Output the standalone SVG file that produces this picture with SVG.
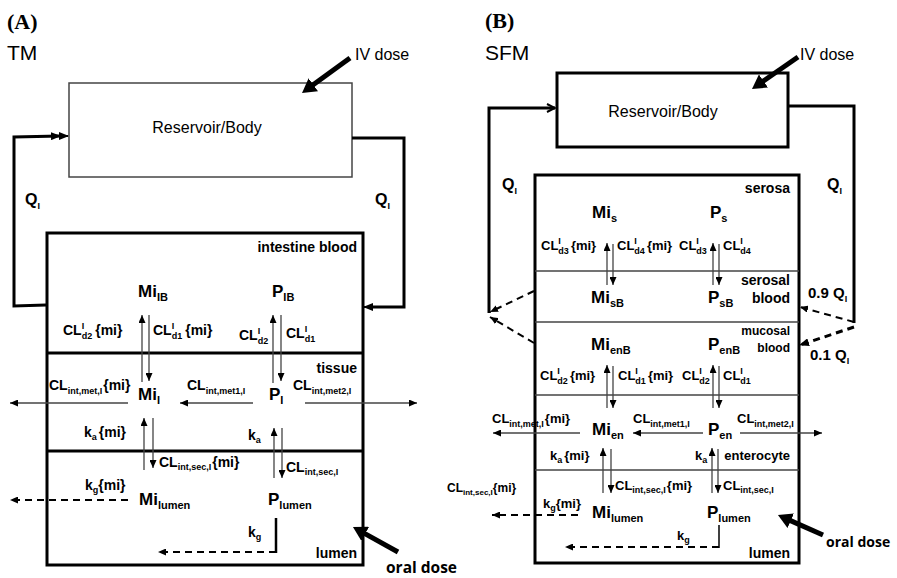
<svg xmlns="http://www.w3.org/2000/svg" width="897" height="578" viewBox="0 0 897 578">
<style>
text{font-family:"Liberation Sans",Arial,sans-serif;fill:#000}
.b{font-weight:bold}
.lbl{font-weight:bold;font-size:14px}
.lblB{font-weight:bold;font-size:13px}
.node{font-weight:bold;font-size:17px}
.s{font-size:9px}
.sn{font-size:11px}
.od{font-family:"Open Sans","Noto Sans",sans-serif;font-weight:bold}
.thin{stroke:#444;stroke-width:1.3;fill:none}
.dash{stroke:#000;stroke-width:2;stroke-dasharray:7 5;fill:none}
.loop{stroke:#000;stroke-width:3;fill:none}
.dose{stroke:#000;stroke-width:5;fill:none}
.box{fill:none;stroke:#000;stroke-width:3}
.div{stroke:#444;stroke-width:1.3}
</style>
<defs>
<marker id="ah" markerUnits="userSpaceOnUse" markerWidth="8" markerHeight="7" refX="8" refY="3.5" orient="auto"><path d="M0,0 L8,3.5 L0,7 z" fill="#000"/></marker>
<marker id="ahL" markerUnits="userSpaceOnUse" markerWidth="10" markerHeight="8" refX="9" refY="4" orient="auto"><path d="M0,0 L10,4 L0,8 z" fill="#000"/></marker>
<marker id="ahD" markerUnits="userSpaceOnUse" markerWidth="16" markerHeight="16" refX="4" refY="8" orient="auto"><path d="M0,0 L14,8 L0,16 z" fill="#000"/></marker>
<marker id="ahO" markerUnits="userSpaceOnUse" markerWidth="10" markerHeight="10" refX="9" refY="5" orient="auto"><path d="M1,1 L9,5 L1,9" fill="none" stroke="#000" stroke-width="2"/></marker>
</defs>

<!-- Panel A titles -->
<text x="7" y="29" style="font-family:'Liberation Serif','Times New Roman',serif;font-weight:bold;font-size:22px">(A)</text>
<text x="7" y="60" style="font-size:21px">TM</text>
<!-- Panel B titles -->
<text x="485" y="28" style="font-family:'Liberation Serif','Times New Roman',serif;font-weight:bold;font-size:22px">(B)</text>
<text x="485" y="60" style="font-size:21px">SFM</text>

<!-- ================= Panel A nodes ================= -->
<g id="A-reservoir">
<rect x="69" y="83" width="283" height="94" fill="none" stroke="#444" stroke-width="1.5"/>
<text x="207" y="133" text-anchor="middle" style="font-size:16px">Reservoir/Body</text>
</g>
<g id="A-ivdose"><text x="355" y="60" style="font-size:16px">IV dose</text></g>
<g id="A-intestine">
<rect class="box" x="47" y="233" width="316" height="332"/>
<line x1="47" y1="353" x2="363" y2="353" stroke="#000" stroke-width="3"/>
<line x1="47" y1="451" x2="363" y2="451" stroke="#000" stroke-width="3"/>
<text class="lbl" x="357" y="252" text-anchor="end">intestine blood</text>
<text class="lbl" x="357" y="373" text-anchor="end">tissue</text>
<text class="lbl" x="357" y="558" text-anchor="end">lumen</text>
</g>
<g id="A-MiIB"><text class="node" x="138" y="297">Mi<tspan class="sn" dy="4">IB</tspan></text></g>
<g id="A-PIB"><text class="node" x="272" y="297">P<tspan class="sn" dy="4">IB</tspan></text></g>
<g id="A-MiI"><text class="node" x="138" y="400">Mi<tspan class="sn" dy="4">I</tspan></text></g>
<g id="A-PI"><text class="node" x="269" y="400">P<tspan class="sn" dy="4">I</tspan></text></g>
<g id="A-Milumen"><text class="node" x="139" y="505">Mi<tspan class="sn" dy="4">lumen</tspan></text></g>
<g id="A-Plumen"><text class="node" x="268" y="505">P<tspan class="sn" dy="4">lumen</tspan></text></g>
<g id="A-oraldose"><text class="od" x="386" y="573" style="font-size:15.5px">oral dose</text></g>

<!-- ================= Panel B nodes ================= -->
<g id="B-reservoir">
<rect x="557" y="73" width="231" height="74" fill="none" stroke="#000" stroke-width="3"/>
<text x="663" y="117" text-anchor="middle" style="font-size:16px">Reservoir/Body</text>
</g>
<g id="B-ivdose"><text x="800" y="60" style="font-size:16px">IV dose</text></g>
<g id="B-intestine">
<rect class="box" x="535" y="175" width="264" height="388"/>
<line class="div" x1="535" y1="271" x2="799" y2="271"/>
<line class="div" x1="535" y1="322" x2="799" y2="322"/>
<line class="div" x1="535" y1="395" x2="799" y2="395"/>
<line class="div" x1="535" y1="470" x2="799" y2="470"/>
<text class="lbl" x="790" y="193" text-anchor="end">serosa</text>
<text class="lbl" x="790" y="285" text-anchor="end">serosal</text>
<text class="lbl" x="790" y="303" text-anchor="end">blood</text>
<text class="b" x="790" y="335" text-anchor="end" style="font-size:12px">mucosal</text>
<text class="b" x="790" y="352" text-anchor="end" style="font-size:12px">blood</text>
<text class="lblB" x="790" y="460" text-anchor="end">enterocyte</text>
<text class="lbl" x="790" y="558" text-anchor="end">lumen</text>
</g>
<g id="B-Mis"><text class="node" x="592" y="218">Mi<tspan class="sn" dy="4">s</tspan></text></g>
<g id="B-Ps"><text class="node" x="710" y="218">P<tspan class="sn" dy="4">s</tspan></text></g>
<g id="B-MisB"><text class="node" x="591" y="303">Mi<tspan class="sn" dy="4">sB</tspan></text></g>
<g id="B-PsB"><text class="node" x="708" y="303">P<tspan class="sn" dy="4">sB</tspan></text></g>
<g id="B-MienB"><text class="node" x="591" y="350">Mi<tspan class="sn" dy="4">enB</tspan></text></g>
<g id="B-PenB"><text class="node" x="708" y="350">P<tspan class="sn" dy="4">enB</tspan></text></g>
<g id="B-Mien"><text class="node" x="592" y="435">Mi<tspan class="sn" dy="4">en</tspan></text></g>
<g id="B-Pen"><text class="node" x="708" y="435">P<tspan class="sn" dy="4">en</tspan></text></g>
<g id="B-Milumen"><text class="node" x="592" y="518">Mi<tspan class="sn" dy="4">lumen</tspan></text></g>
<g id="B-Plumen"><text class="node" x="707" y="518">P<tspan class="sn" dy="4">lumen</tspan></text></g>
<g id="B-oraldose"><text class="od" x="826" y="547" style="font-size:14px">oral dose</text></g>

<!-- ================= Connectors ================= -->
<g id="connectors">
<!-- A dose arrows -->
<line class="dose" x1="350" y1="58" x2="310.1" y2="87.1" marker-end="url(#ahD)"/>
<line class="dose" x1="398" y1="552" x2="361.7" y2="531.9" marker-end="url(#ahD)"/>
<!-- A loops -->
<polyline class="loop" points="46,305 14,306 14,137 60,136" marker-end="url(#ahL)"/>
<line x1="55" y1="136" x2="68" y2="136" stroke="#000" stroke-width="2" marker-end="url(#ahL)"/>
<polyline class="loop" points="352,138 404,138 404,307 370,307"/>
<line x1="372" y1="307" x2="364" y2="307" stroke="#000" stroke-width="2" marker-end="url(#ahL)"/>
<!-- A blood<->tissue -->
<line class="thin" x1="142" y1="382" x2="142" y2="315" marker-end="url(#ah)"/>
<line class="thin" x1="149" y1="315" x2="149" y2="381" marker-end="url(#ah)"/>
<line class="thin" x1="273" y1="383" x2="273" y2="315" marker-end="url(#ah)"/>
<line class="thin" x1="281" y1="315" x2="281" y2="381" marker-end="url(#ah)"/>
<!-- A metabolism -->
<line class="thin" x1="128" y1="403" x2="10" y2="403" marker-end="url(#ah)"/>
<line class="thin" x1="253" y1="403" x2="180" y2="403" marker-end="url(#ah)"/>
<line class="thin" x1="305" y1="403" x2="417" y2="403" marker-end="url(#ah)"/>
<!-- A tissue<->lumen -->
<line class="thin" x1="144" y1="470" x2="144" y2="418" marker-end="url(#ah)"/>
<line class="thin" x1="153" y1="418" x2="153" y2="468" marker-end="url(#ah)"/>
<line class="thin" x1="274" y1="478" x2="274" y2="428" marker-end="url(#ah)"/>
<line class="thin" x1="282" y1="428" x2="282" y2="478" marker-end="url(#ah)"/>
<!-- A lumen transit -->
<line class="dash" x1="128" y1="500" x2="10" y2="500" marker-end="url(#ah)"/>
<line x1="276" y1="518" x2="276" y2="553" stroke="#000" stroke-width="2.5"/>
<line class="dash" x1="276" y1="552" x2="158" y2="552" marker-end="url(#ah)"/>

<!-- B dose arrows -->
<line class="dose" x1="798" y1="57" x2="760.2" y2="83.3" marker-end="url(#ahD)"/>
<line class="dose" x1="823" y1="535" x2="787.1" y2="519.1" marker-end="url(#ahD)"/>
<!-- B loops -->
<polyline class="loop" points="489,313 489,108 555,108" marker-end="url(#ahO)"/>
<polyline class="loop" points="788,106 854,106 854,323"/>
<line class="dash" x1="534" y1="291" x2="490" y2="312" marker-end="url(#ah)"/>
<line class="dash" x1="534" y1="343" x2="490" y2="317" marker-end="url(#ah)"/>
<line class="dash" x1="854" y1="322" x2="800" y2="307" marker-end="url(#ah)"/>
<line class="dash" style="stroke-width:3" x1="854" y1="327" x2="800" y2="345" marker-end="url(#ahL)"/>
<!-- B serosa<->serosal blood -->
<line class="thin" x1="607" y1="285" x2="607" y2="243" marker-end="url(#ah)"/>
<line class="thin" x1="613" y1="244" x2="613" y2="285" marker-end="url(#ah)"/>
<line class="thin" x1="713" y1="285" x2="713" y2="243" marker-end="url(#ah)"/>
<line class="thin" x1="719" y1="244" x2="719" y2="285" marker-end="url(#ah)"/>
<!-- B mucosal blood<->enterocyte -->
<line class="thin" x1="607" y1="408" x2="607" y2="365" marker-end="url(#ah)"/>
<line class="thin" x1="613" y1="366" x2="613" y2="408" marker-end="url(#ah)"/>
<line class="thin" x1="713" y1="408" x2="713" y2="365" marker-end="url(#ah)"/>
<line class="thin" x1="719" y1="366" x2="719" y2="408" marker-end="url(#ah)"/>
<!-- B metabolism -->
<line class="thin" x1="580" y1="433" x2="493" y2="433" marker-end="url(#ah)"/>
<line class="thin" x1="703" y1="433" x2="633" y2="433" marker-end="url(#ah)"/>
<line class="thin" x1="740" y1="433" x2="822" y2="433" marker-end="url(#ah)"/>
<!-- B enterocyte<->lumen -->
<line class="thin" x1="603" y1="493" x2="603" y2="448" marker-end="url(#ah)"/>
<line class="thin" x1="611" y1="449" x2="611" y2="493" marker-end="url(#ah)"/>
<line class="thin" x1="712" y1="493" x2="712" y2="448" marker-end="url(#ah)"/>
<line class="thin" x1="718" y1="449" x2="718" y2="493" marker-end="url(#ah)"/>
<!-- B lumen transit -->
<line class="dash" x1="578" y1="515" x2="492" y2="515" marker-end="url(#ah)"/>
<line x1="719" y1="525" x2="719" y2="548" stroke="#000" stroke-width="1.5"/>
<line class="dash" x1="719" y1="547" x2="565" y2="547" marker-end="url(#ah)"/>

<!-- ===== connector labels A ===== -->
<text class="b" x="25" y="205" style="font-size:16px">Q<tspan class="s" dy="4">I</tspan></text>
<text class="b" x="375" y="205" style="font-size:16px">Q<tspan class="s" dy="4">I</tspan></text>
<text class="lbl" x="63" y="335">CL<tspan class="s" dy="-6">I</tspan><tspan class="s" dx="-2.5" dy="10">d2</tspan><tspan dx="3" dy="-4">{mi}</tspan></text>
<text class="lbl" x="153" y="335">CL<tspan class="s" dy="-6">I</tspan><tspan class="s" dx="-2.5" dy="10">d1</tspan><tspan dx="3" dy="-4">{mi}</tspan></text>
<text class="lbl" x="239" y="340">CL<tspan class="s" dy="-6">I</tspan><tspan class="s" dx="-2.5" dy="10">d2</tspan></text>
<text class="lbl" x="286" y="338">CL<tspan class="s" dy="-6">I</tspan><tspan class="s" dx="-2.5" dy="10">d1</tspan></text>
<text class="lbl" x="49" y="390">CL<tspan class="s" dy="4">int,met,I</tspan><tspan dx="1" dy="-4">{mi}</tspan></text>
<text class="lbl" x="187" y="390">CL<tspan class="s" dy="4">int,met1,I</tspan></text>
<text class="lbl" x="293" y="390">CL<tspan class="s" dy="4">int,met2,I</tspan></text>
<text class="lbl" x="84" y="437">k<tspan class="s" dy="3">a</tspan><tspan dx="2" dy="-3">{mi}</tspan></text>
<text class="lbl" x="248" y="440">k<tspan class="s" dy="3">a</tspan></text>
<text class="lbl" x="159" y="467">CL<tspan class="s" dy="3">int,sec,I</tspan><tspan dx="1" dy="-3">{mi}</tspan></text>
<text class="lbl" x="286" y="472">CL<tspan class="s" dy="3">int,sec,I</tspan></text>
<text class="lbl" x="85" y="490">k<tspan class="s" dy="3">g</tspan><tspan dy="-3">{mi}</tspan></text>
<text class="lbl" x="248" y="537">k<tspan class="s" dy="3">g</tspan></text>

<!-- ===== connector labels B ===== -->
<text class="b" x="502" y="190" style="font-size:16px">Q<tspan class="s" dy="4">I</tspan></text>
<text class="b" x="827" y="190" style="font-size:16px">Q<tspan class="s" dy="4">I</tspan></text>
<text class="b" x="808" y="298" style="font-size:15px">0.9 Q<tspan class="s" dy="4">I</tspan></text>
<text class="b" x="810" y="360" style="font-size:15px">0.1 Q<tspan class="s" dy="4">I</tspan></text>
<text class="lblB" x="541" y="250">CL<tspan class="s" dy="-6">I</tspan><tspan class="s" dx="-2.5" dy="10">d3</tspan><tspan dx="2" dy="-4">{mi}</tspan></text>
<text class="lblB" x="617" y="250">CL<tspan class="s" dy="-6">I</tspan><tspan class="s" dx="-2.5" dy="10">d4</tspan><tspan dx="2" dy="-4">{mi}</tspan></text>
<text class="lblB" x="679" y="250">CL<tspan class="s" dy="-6">I</tspan><tspan class="s" dx="-2.5" dy="10">d3</tspan></text>
<text class="lblB" x="723" y="250">CL<tspan class="s" dy="-6">I</tspan><tspan class="s" dx="-2.5" dy="10">d4</tspan></text>
<text class="lblB" x="540" y="380">CL<tspan class="s" dy="-6">I</tspan><tspan class="s" dx="-2.5" dy="10">d2</tspan><tspan dx="2" dy="-4">{mi}</tspan></text>
<text class="lblB" x="618" y="380">CL<tspan class="s" dy="-6">I</tspan><tspan class="s" dx="-2.5" dy="10">d1</tspan><tspan dx="2" dy="-4">{mi}</tspan></text>
<text class="lblB" x="682" y="380">CL<tspan class="s" dy="-6">I</tspan><tspan class="s" dx="-2.5" dy="10">d2</tspan></text>
<text class="lblB" x="723" y="380">CL<tspan class="s" dy="-6">I</tspan><tspan class="s" dx="-2.5" dy="10">d1</tspan></text>
<text class="lblB" x="492" y="423">CL<tspan class="s" dy="4">int,met,I</tspan><tspan dx="1" dy="-4">{mi}</tspan></text>
<text class="lblB" x="633" y="423">CL<tspan class="s" dy="4">int,met1,I</tspan></text>
<text class="lblB" x="737" y="423">CL<tspan class="s" dy="4">int,met2,I</tspan></text>
<text class="lblB" x="550" y="460">k<tspan class="s" dy="3">a</tspan><tspan dx="2" dy="-3">{mi}</tspan></text>
<text class="lblB" x="695" y="460">k<tspan class="s" dy="3">a</tspan></text>
<text class="lblB" x="615" y="490">CL<tspan class="s" dy="3">int,sec,I</tspan><tspan dx="1" dy="-3">{mi}</tspan></text>
<text class="lblB" x="723" y="490">CL<tspan class="s" dy="3">int,sec,I</tspan></text>
<text class="b" x="447" y="492" style="font-size:12px">CL<tspan style="font-size:8px" dy="3">int,sec,I</tspan><tspan dy="-3">{mi}</tspan></text>
<text class="lblB" x="543" y="508">k<tspan class="s" dy="3">g</tspan><tspan dy="-3">{mi}</tspan></text>
<text class="lblB" x="677" y="540">k<tspan class="s" dy="3">g</tspan></text>
</g>
</svg>
